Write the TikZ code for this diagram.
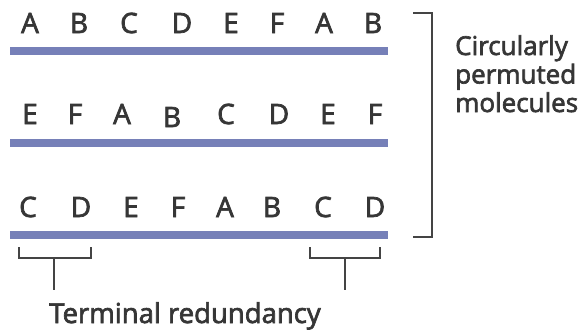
\documentclass[tikz,border=0pt]{standalone}
\usepackage{fontspec}
\setmainfont{Open Sans}[FakeBold=2.5]
\newfontfamily\myf{Open Sans}[FakeBold=2.5]
\definecolor{barcol}{HTML}{7680B8}
\definecolor{ink}{HTML}{363636}
\definecolor{brk}{HTML}{444444}
\begin{document}
\begin{tikzpicture}[x=1pt,y=-1pt,
  lett/.style={anchor=base,inner sep=0pt,text=ink,font=\myf\fontsize{28}{30}\selectfont},
  bar/.style={draw=barcol,line width=8.5pt},
  brline/.style={draw=brk,line width=1.8pt},
  bigbr/.style={draw=brk,line width=2.4pt},
  lbl/.style={inner sep=0pt,text=ink,font=\myf\fontsize{26}{28.5}\selectfont}]
\useasboundingbox (0,0) rectangle (586,330);
% row 1
\foreach \t/\x [count=\i] in {A/30,B/79,C/129,D/182,E/231,F/277,A/324,B/373}
  \node[lett] (r1n\i) at (\x,33) {\t};
% row 2
\foreach \t/\x/\y [count=\i] in {E/30/124,F/75/124,A/122/124,B/172/127,C/226/124,D/279/124,E/328/124,F/375/124}
  \node[lett] (r2n\i) at (\x,\y) {\t};
% row 3
\foreach \t/\x [count=\i] in {C/28,D/81,E/131,F/178,A/225,B/272,C/323,D/375}
  \node[lett] (r3n\i) at (\x,217) {\t};
% bars
\coordinate (b1l) at (10,51); \coordinate (b1r) at (388,51);
\coordinate (b2l) at (10,143); \coordinate (b2r) at (388,143);
\coordinate (b3l) at (10,235); \coordinate (b3r) at (388,235);
\draw[bar] (b1l) -- (b1r);
\draw[bar] (b2l) -- (b2r);
\draw[bar] (b3l) -- (b3r);
% big bracket
\coordinate (bt) at (413,13); \coordinate (btc) at (432,13);
\coordinate (bbc) at (432,237); \coordinate (bb) at (413,237);
\draw[bigbr] (bt) -- (btc) -- (bbc) -- (bb);
\node[lbl,anchor=base west,align=left] (circ) at (455,112) {Circularly\\permuted\\molecules};
% terminal redundancy brackets
\coordinate (lb1) at (19,247); \coordinate (lb2) at (19,258);
\coordinate (lb3) at (91,258); \coordinate (lb4) at (91,247);
\coordinate (ls1) at (54,258); \coordinate (ls2) at (54,290);
\draw[brline] (lb1) -- (lb2) -- (lb3) -- (lb4);
\draw[brline] (ls1) -- (ls2);
\coordinate (rb1) at (310,247); \coordinate (rb2) at (310,258);
\coordinate (rb3) at (380,258); \coordinate (rb4) at (380,247);
\coordinate (rs1) at (345,258); \coordinate (rs2) at (345,290);
\draw[brline] (rb1) -- (rb2) -- (rb3) -- (rb4);
\draw[brline] (rs1) -- (rs2);
\node[lbl,anchor=base,font=\myf\fontsize{27.5}{30}\selectfont] (term) at (185,323) {Terminal redundancy};
\end{tikzpicture}
\end{document}
